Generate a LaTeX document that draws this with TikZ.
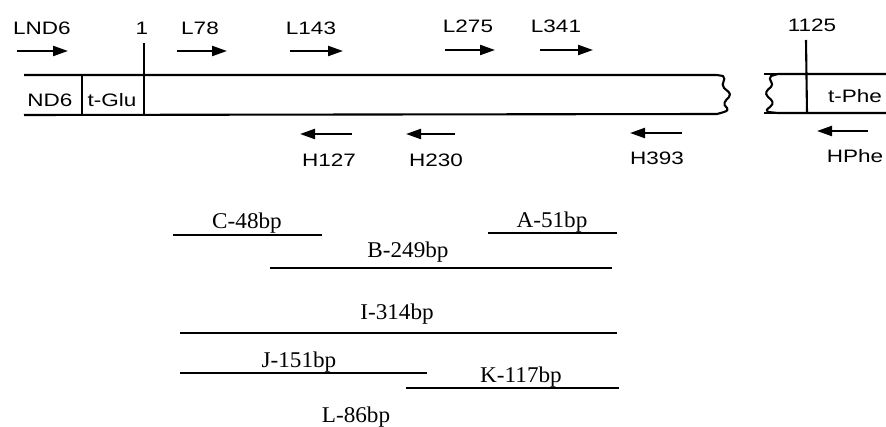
\documentclass[tikz,border=0pt]{standalone}
\usepackage{fontspec}
\setmainfont{Liberation Serif}
\newfontfamily\lblsans[FakeStretch=1.25]{Liberation Sans}
\newfontfamily\lblserif[FakeStretch=1.03]{Liberation Serif}
\usetikzlibrary{arrows.meta}
\begin{document}
\begin{tikzpicture}[x=1pt,y=-1pt,
  sanslbl/.style={font=\lblsans\fontsize{18}{20}\selectfont, anchor=base, inner sep=0pt},
  seriflbl/.style={font=\lblserif\fontsize{22.5}{25}\selectfont, anchor=base, inner sep=0pt},
  primer/.style={line width=2.2pt, -{Triangle[length=15pt,width=10pt]}},
  frag/.style={line width=2.4pt},
  seq/.style={line width=2.1pt, line join=round}]
\useasboundingbox (0,0) rectangle (886,427);

% ---- labels above
\node[sanslbl] (lnd6) at (42,35) {LND6};
\node[sanslbl] (one) at (142,35) {1};
\node[sanslbl] (l78) at (200,35) {L78};
\node[sanslbl] (l143) at (311,35) {L143};
\node[sanslbl] (l275) at (468,33) {L275};
\node[sanslbl] (l341) at (556,33) {L341};
\node[sanslbl] (n1125) at (812,32) {1125};

% ---- forward primers
\coordinate (a1s) at (17,51);  \coordinate (a1e) at (68,51);
\coordinate (a2s) at (177,51); \coordinate (a2e) at (227,51);
\coordinate (a3s) at (290,51); \coordinate (a3e) at (343,51);
\coordinate (a4s) at (445,50); \coordinate (a4e) at (495,50);
\coordinate (a5s) at (540,50); \coordinate (a5e) at (593,50);
\draw[primer] (a1s) -- (a1e);
\draw[primer] (a2s) -- (a2e);
\draw[primer] (a3s) -- (a3e);
\draw[primer] (a4s) -- (a4e);
\draw[primer] (a5s) -- (a5e);

% ---- sequence bar, left piece
\coordinate (tl) at (24,75);  \coordinate (bl) at (24,115);
\coordinate (tr) at (717,75); \coordinate (br) at (717,114);
\draw[seq] (tl) -- (tr) -- (723,76) .. controls (727,80) and (720,83) .. (724,88)
  .. controls (727,91) and (732,93) .. (729,97)
  .. controls (725,101) and (722,104) .. (727,108)
  .. controls (728,111) .. (br) -- (bl);
\draw[seq] (82,75) -- (82,115);
\coordinate (tick1top) at (144,43);
\coordinate (tick1bot) at (144,115);
\draw[seq] (tick1top) -- (tick1bot);
\node[sanslbl] (nd6) at (50,107) {ND6};
\node[sanslbl] (tglu) at (112,107) {t-Glu};

% ---- sequence bar, right piece
\coordinate (rtl) at (778,74); \coordinate (rbl) at (778,113);
\coordinate (rtr) at (886,74); \coordinate (rbr) at (886,113);
\draw[seq] (rtr) -- (rtl) -- (771,76) .. controls (767,80) and (775,83) .. (771,87)
  .. controls (767,90) and (764,93) .. (768,97)
  .. controls (772,100) and (775,103) .. (770,107)
  .. controls (766,110) .. (768,112) -- (rbl) -- (rbr);
\draw[seq] (764,74) -- (rtl);
\draw[seq] (764,113) -- (rbl);
\coordinate (tick2top) at (806,40);
\coordinate (tick2bot) at (807,113);
\draw[seq] (tick2top) -- (tick2bot);
\node[sanslbl, anchor=base west] (tphe) at (828,103) {t-Phe};

% ---- reverse primers
\coordinate (h1s) at (352,134); \coordinate (h1e) at (300,134);
\coordinate (h2s) at (455,134); \coordinate (h2e) at (406,134);
\coordinate (h3s) at (682,133); \coordinate (h3e) at (630,133);
\coordinate (h4s) at (868,131); \coordinate (h4e) at (817,131);
\draw[primer] (h1s) -- (h1e);
\draw[primer] (h2s) -- (h2e);
\draw[primer] (h3s) -- (h3e);
\draw[primer] (h4s) -- (h4e);
\node[sanslbl] (h127) at (329,167) {H127};
\node[sanslbl] (h230) at (436,167) {H230};
\node[sanslbl] (h393) at (657,165) {H393};
\node[sanslbl] (hphe) at (855,163) {HPhe};

% ---- fragments
\node[seriflbl] (fc) at (247,229) {C-48bp};
\draw[frag] (173,235) -- (322,235);
\node[seriflbl] (fa) at (552,228) {A-51bp};
\draw[frag] (488,233) -- (617,233);
\node[seriflbl] (fb) at (408,258) {B-249bp};
\draw[frag] (270,268) -- (612,268);
\node[seriflbl] (fi) at (397,320) {I-314bp};
\draw[frag] (180,333) -- (617,333);
\node[seriflbl] (fj) at (299,367) {J-151bp};
\draw[frag] (180,373) -- (427,373);
\node[seriflbl] (fk) at (521,382) {K-117bp};
\draw[frag] (406,388) -- (619,388);
\node[seriflbl] (fl) at (356,422) {L-86bp};
\end{tikzpicture}
\end{document}
